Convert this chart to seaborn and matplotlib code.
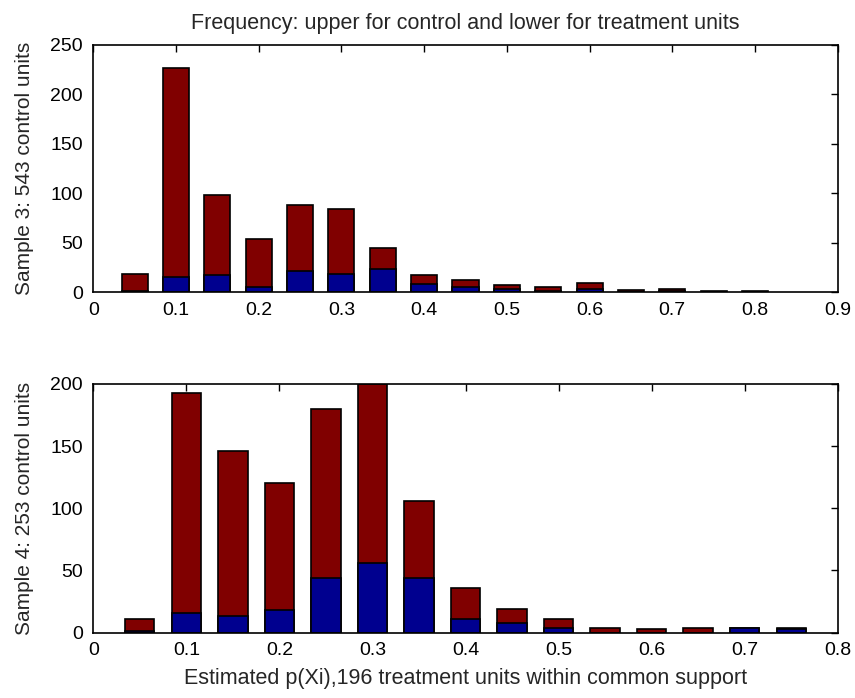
import numpy as np
import pandas as pd
import matplotlib
matplotlib.use("Agg")
import matplotlib.pyplot as plt
import seaborn as sns

# ---- data ----
x_top = [0.05, 0.10, 0.15, 0.20, 0.25, 0.30, 0.35, 0.40, 0.45, 0.50, 0.55, 0.60, 0.65, 0.70, 0.75, 0.80]
treat_top = [1, 15, 17, 5, 22, 18, 24, 8, 5, 3, 1, 3, 0, 1, 0, 0]
control_top = [17, 211, 81, 49, 66, 66, 21, 9, 7, 4, 4, 6, 2, 2, 1, 1]

x_bot = [0.05, 0.10, 0.15, 0.20, 0.25, 0.30, 0.35, 0.40, 0.45, 0.50, 0.55, 0.60, 0.65, 0.70, 0.75]
treat_bot = [1, 16, 13, 18, 44, 56, 44, 11, 8, 4, 0, 0, 0, 4, 3]
control_bot = [10, 177, 133, 102, 136, 144, 62, 25, 11, 7, 4, 3, 4, 0, 1]

xticks_top = [0, 0.1, 0.2, 0.3, 0.4, 0.5, 0.6, 0.7, 0.8, 0.9]
xticks_bot = [0, 0.1, 0.2, 0.3, 0.4, 0.5, 0.6, 0.7, 0.8]
yticks_top = [0, 50, 100, 150, 200, 250]
yticks_bot = [0, 50, 100, 150, 200]

title = "Frequency: upper for control and lower for treatment units"
ylabel_top = "Sample 3: 543 control units"
ylabel_bot = "Sample 4: 253 control units"
xlabel_bot = "Estimated p(Xi),196 treatment units within common support"

RED = "#800000"
BLUE = "#00008F"

sns.set_style("white")
plt.rcParams['font.family'] = ['Liberation Sans', 'DejaVu Sans']

fig = plt.figure(figsize=(8.55, 6.98), dpi=100)
W, H = 855, 698

def make_axes(left, top, right, bottom):
    return fig.add_axes([left / W, 1 - bottom / H, (right - left) / W, (bottom - top) / H])

ax1 = make_axes(93.3, 44.7, 837.7, 292.3)
ax2 = make_axes(93.3, 384.0, 837.7, 632.5)

def draw(ax, xs, ctrl, trt, xlim, xticks, ylim, yticks):
    df = pd.DataFrame({"x": xs, "treat": trt, "total": np.array(ctrl) + np.array(trt)})
    sns.barplot(data=df, x="x", y="total", native_scale=True, color=RED, saturation=1,
                width=0.63, edgecolor="black", linewidth=1.2, errorbar=None, ax=ax)
    sns.barplot(data=df, x="x", y="treat", native_scale=True, color=BLUE, saturation=1,
                width=0.63, edgecolor="black", linewidth=1.2, errorbar=None, ax=ax)
    ax.set_xlim(*xlim)
    ax.set_ylim(*ylim)
    ax.set_xticks(xticks)
    ax.set_xticklabels([f"{t:g}" for t in xticks])
    ax.set_yticks(yticks)
    ax.set_yticklabels([str(t) for t in yticks])
    ax.tick_params(direction="in", top=True, right=True, length=5, width=1,
                   labelsize=14, colors="black")
    ax.tick_params(axis="x", pad=7)
    ax.tick_params(axis="y", pad=7.5)
    for s in ax.spines.values():
        s.set_visible(True)
        s.set_color("black")
        s.set_linewidth(1.2)
    ax.set_xlabel("")
    ax.set_ylabel("")

draw(ax1, x_top, control_top, treat_top, (0, 0.9), xticks_top, (0, 250), yticks_top)
draw(ax2, x_bot, control_bot, treat_bot, (0, 0.8), xticks_bot, (0, 200), yticks_bot)

ax1.set_title(title, fontsize=15.5, pad=11)
ax1.set_ylabel(ylabel_top, fontsize=15, labelpad=12)
ax2.set_ylabel(ylabel_bot, fontsize=15, labelpad=12)
ax2.set_xlabel(xlabel_bot, fontsize=15.5, labelpad=6)

fig.savefig("out.png", dpi=100)
